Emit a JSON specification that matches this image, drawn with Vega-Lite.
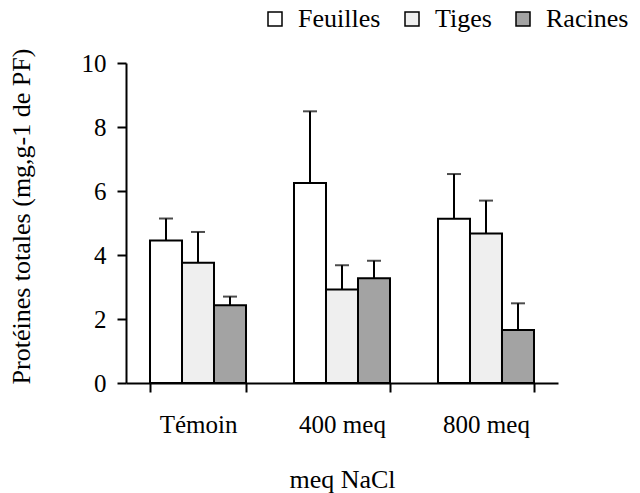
{
  "$schema": "https://vega.github.io/schema/vega-lite/v6.json",
  "width": 432,
  "height": 320,
  "autosize": {"type": "none"},
  "padding": {"left": 126, "top": 63, "right": 82, "bottom": 110},
  "background": "white",
  "data": {
    "values": [
      {"group": "Témoin", "organ": "Feuilles", "value": 4.45, "hi": 5.14},
      {"group": "Témoin", "organ": "Tiges", "value": 3.76, "hi": 4.72},
      {"group": "Témoin", "organ": "Racines", "value": 2.43, "hi": 2.70},
      {"group": "400 meq", "organ": "Feuilles", "value": 6.25, "hi": 8.49},
      {"group": "400 meq", "organ": "Tiges", "value": 2.92, "hi": 3.68},
      {"group": "400 meq", "organ": "Racines", "value": 3.27, "hi": 3.82},
      {"group": "800 meq", "organ": "Feuilles", "value": 5.13, "hi": 6.53},
      {"group": "800 meq", "organ": "Tiges", "value": 4.67, "hi": 5.70},
      {"group": "800 meq", "organ": "Racines", "value": 1.66, "hi": 2.49}
    ]
  },
  "encoding": {
    "x": {
      "field": "group", "type": "nominal",
      "sort": ["Témoin", "400 meq", "800 meq"],
      "scale": {"paddingInner": 0.3333, "paddingOuter": 0.1667},
      "axis": {
        "title": "meq NaCl", "labelAngle": 0, "tickBand": "extent",
        "tickSize": 9, "labelPadding": 20, "titlePadding": 29
      }
    },
    "xOffset": {
      "field": "organ", "type": "nominal",
      "sort": ["Feuilles", "Tiges", "Racines"],
      "scale": {"paddingInner": 0, "paddingOuter": 0}
    }
  },
  "layer": [
    {
      "mark": {"type": "bar", "stroke": "black", "strokeWidth": 2},
      "encoding": {
        "y": {
          "field": "value", "type": "quantitative",
          "scale": {"domain": [0, 10], "nice": false},
          "axis": {
            "title": "Protéines totales (mg,g-1 de PF)",
            "values": [0, 2, 4, 6, 8, 10],
            "tickSize": 9, "labelPadding": 11, "titlePadding": 47, "titleY": 153
          }
        },
        "fill": {
          "field": "organ", "type": "nominal",
          "sort": ["Feuilles", "Tiges", "Racines"],
          "scale": {"domain": ["Feuilles", "Tiges", "Racines"], "range": ["#ffffff", "#efefef", "#a3a3a3"]},
          "legend": {
            "title": null, "orient": "none", "direction": "horizontal",
            "legendX": 136, "legendY": -57,
            "symbolType": "square", "symbolSize": 196,
            "symbolStrokeColor": "black", "symbolStrokeWidth": 1.5,
            "symbolOpacity": 1,
            "labelOffset": 10, "columnPadding": 18, "padding": 0,
            "labelFontSize": 26, "labelFont": "Liberation Serif", "labelColor": "black"
          }
        }
      }
    },
    {
      "mark": {"type": "rule", "color": "black", "strokeWidth": 2},
      "encoding": {
        "y": {"field": "value", "type": "quantitative"},
        "y2": {"field": "hi"}
      }
    },
    {
      "mark": {"type": "tick", "color": "black", "thickness": 2, "size": 14, "orient": "horizontal"},
      "encoding": {
        "y": {"field": "hi", "type": "quantitative"}
      }
    }
  ],
  "config": {
    "view": {"stroke": null},
    "font": "Liberation Serif",
    "axis": {
      "grid": false,
      "domainColor": "black", "domainWidth": 2,
      "tickColor": "black", "tickWidth": 2,
      "labelFont": "Liberation Serif", "labelFontSize": 25, "labelColor": "black",
      "titleFont": "Liberation Serif", "titleFontSize": 26, "titleFontWeight": "normal", "titleColor": "black"
    }
  }
}
